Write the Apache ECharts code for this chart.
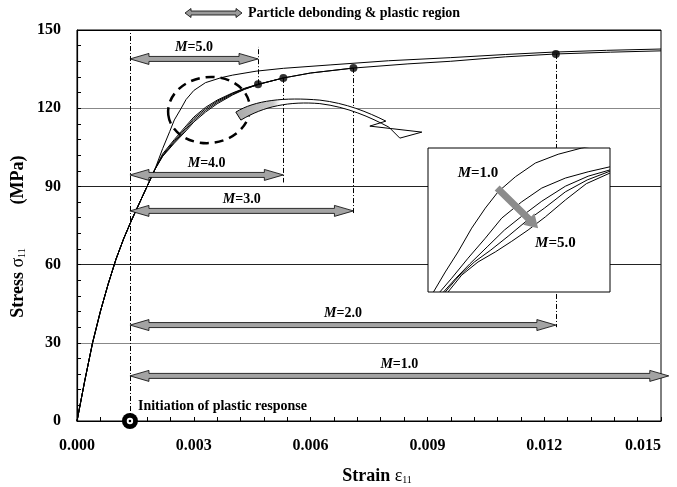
<!DOCTYPE html>
<html>
<head>
<meta charset="utf-8">
<script src="https://cdn.jsdelivr.net/npm/echarts@6/dist/echarts.min.js"></script>
<style>
  html, body { margin: 0; padding: 0; background: #fff; }
  #chart { width: 677px; height: 487px; }
</style>
</head>
<body>
<div id="chart"></div>
<script>
// stress-strain curves, strain [-], stress [MPa]
const elastic = [[0, 0], [0.0002, 15.5], [0.0004, 30], [0.0006, 42], [0.0008, 52.5], [0.001, 62],
  [0.0012, 70], [0.0014, 77], [0.0016, 83.5], [0.0018, 90], [0.002, 96.5]];
const m1Tail = [[0.0022, 104.5], [0.00238, 111], [0.0025, 115.5], [0.00265, 119.3], [0.0028, 123.3],
  [0.003, 126.8], [0.0033, 129.8], [0.0037, 131.7], [0.004, 132.7], [0.0046, 134.2], [0.0053, 135.3],
  [0.0065, 136.6], [0.008, 138.2], [0.0096, 139.4], [0.011, 140.6], [0.0122, 141.5], [0.0136, 142.2], [0.015, 142.7]];
const m2Tail = [[0.0022, 102.5], [0.0025, 108], [0.0028, 113.2], [0.003, 116.6], [0.0033, 120.3], [0.0036, 123.1],
  [0.004, 125.9], [0.0043, 127.6], [0.00465, 129.2], [0.0053, 131.6], [0.006, 133.5], [0.0071, 135.4],
  [0.0085, 137.0], [0.0096, 138], [0.011, 139.7], [0.0123, 140.8], [0.0137, 141.5], [0.015, 142]];
const m3Tail = [[0.0022, 102], [0.0025, 107.5], [0.0028, 112.5], [0.003, 116], [0.0033, 119.7], [0.0036, 122.7],
  [0.004, 125.7], [0.0043, 127.5], [0.00465, 129.1], [0.0053, 131.6], [0.006, 133.5], [0.0071, 135.4]];
const m4Tail = [[0.0022, 101.7], [0.0025, 107], [0.0028, 111.9], [0.003, 115.3], [0.0033, 119.1], [0.0036, 122.2],
  [0.004, 125.4], [0.0043, 127.3], [0.00465, 129.1], [0.0053, 131.6]];
const m5Tail = [[0.0022, 101.5], [0.0025, 106.6], [0.0028, 111.3], [0.003, 114.7], [0.0033, 118.5], [0.0036, 121.7],
  [0.004, 125.1], [0.0043, 127.2], [0.00465, 129.1]];

// debonding points (end of plastic region) for M=5,4,3,2
const debondPoints = [[0.00465, 129.2], [0.0053, 131.6], [0.0071, 135.4], [0.0123, 140.8]];
const plasticStart = 0.00136;

// range arrows
const arrowLabels = ['1.0', '2.0', '3.0', '4.0', '5.0'];
const arrowEnds = [0.0152, 0.0123, 0.0071, 0.0053, 0.00465];
const arrowLevels = [17.3, 36.8, 80.6, 94.4, 138.9];

// dash-dot guide lines [x, yFrom, yTo]
const guides = [[0.00136, 0, 150], [0.00465, 129.2, 143.5], [0.0053, 131.6, 91.5], [0.0071, 135.4, 79], [0.0123, 140.8, 36]];

// inset (magnified view)
const insetM1 = [[0.00246, 108], [0.00259, 111.2], [0.00273, 114.4], [0.00288, 118.2], [0.00303, 121.4], [0.00317, 124],
  [0.00336, 126.4], [0.00358, 128.6], [0.00383, 130], [0.00409, 131], [0.0043, 131.6]];
const insetM2 = [[0.00253, 108], [0.00266, 110.2], [0.00284, 113.4], [0.00303, 116.6], [0.00321, 119.8], [0.00343, 122.4],
  [0.00365, 124.6], [0.00391, 126.2], [0.00416, 127.2], [0.0044, 128]];
const insetM3 = [[0.00257, 108], [0.0027, 110.1], [0.00286, 112.5], [0.00305, 115.2], [0.00324, 117.9], [0.00343, 120.1],
  [0.00365, 122.5], [0.00391, 124.9], [0.00416, 126.5], [0.0044, 127.5]];
const insetM4 = [[0.00259, 108], [0.00273, 110.4], [0.00291, 112.8], [0.00309, 114.7], [0.00328, 116.9], [0.00347, 119.2],
  [0.00368, 121.4], [0.00391, 124], [0.00415, 125.9], [0.0044, 127.3]];
const insetM5 = [[0.00262, 108], [0.00277, 110.7], [0.00295, 112.8], [0.00314, 114.4], [0.00332, 116.1], [0.0035, 117.9],
  [0.00369, 120], [0.00391, 122.7], [0.00414, 125.3], [0.0044, 127]];
const insetArrow = [[0.00316, 124.6, 0.00361, 118.2]];
const insetLabels = ['1.0', '5.0'];
const insetLabelPos = [[0.00295, 127.0], [0.0038, 115.8]];

// annotation anchors: dashed ellipse centre, curved arrow tail
const ellipseCentre = [0.00339, 119.3];
const curvedArrowTail = [0.00408, 118.5];

const F = 'Liberation Serif';
const insetBox = { left: 428, top: 148, width: 182, height: 144, outerBoundsMode: 'none' };

function arrowPoints(a, b, sw, hw, hl, both) {
  const dx = b[0] - a[0], dy = b[1] - a[1], L = Math.hypot(dx, dy);
  const ux = dx / L, uy = dy / L, nx = -uy, ny = ux;
  const P = (t, s) => [a[0] + ux * t + nx * s, a[1] + uy * t + ny * s];
  if (both) {
    return [P(0, 0), P(hl, hw / 2), P(hl, sw / 2), P(L - hl, sw / 2), P(L - hl, hw / 2), P(L, 0),
      P(L - hl, -hw / 2), P(L - hl, -sw / 2), P(hl, -sw / 2), P(hl, -hw / 2)];
  }
  return [P(0, sw / 2), P(L - hl, sw / 2), P(L - hl, hw / 2), P(L, 0), P(L - hl, -hw / 2), P(L - hl, -sw / 2), P(0, -sw / 2)];
}

function mText(x, y, val, size) {
  return {
    type: 'text', x: x, y: y,
    style: {
      text: '{i|M}{n|=' + val + '}', align: 'center', verticalAlign: 'middle',
      rich: {
        i: { fontFamily: F, fontStyle: 'italic', fontWeight: 'bold', fontSize: size, fill: '#000' },
        n: { fontFamily: F, fontWeight: 'bold', fontSize: size, fill: '#000' }
      }
    }
  };
}

const ellipsePath = 'M-41 0 A41 33 0 1 0 41 0 A41 33 0 1 0 -41 0 Z';
const curvedArrowPath = 'M0 0 C19 -12 49 -15 84 -12 C110 -9 132 0 150 9 L134 14 L186 20 L164 26 L153 15 ' +
  'C134 5 112 -5 84 -8.5 C54 -11 28 -6 5 8 Z';

const chart = echarts.init(document.getElementById('chart'));

const lineStyle = { color: '#000', width: 1 };
const curve = (data, xi) => ({
  type: 'line', data: data, xAxisIndex: xi, yAxisIndex: xi, showSymbol: false, symbol: 'none',
  lineStyle: lineStyle, z: xi ? 5 : 2, silent: true
});

const option = {
  animation: false,
  grid: [
    { left: 77, right: 16, top: 30, bottom: 66, show: true, borderColor: '#000', borderWidth: 1, outerBoundsMode: 'none' },
    insetBox
  ],
  xAxis: [{
    type: 'value', min: 0, max: 0.015, interval: 0.003,
    axisLine: { lineStyle: { color: '#000', width: 1.2 } },
    axisTick: { inside: true, length: 4, lineStyle: { color: '#000' } },
    minorTick: { show: true, splitNumber: 5, length: 4, lineStyle: { color: '#000' } },
    splitLine: { show: false },
    axisLabel: { margin: 17, color: '#000', fontFamily: F, fontWeight: 'bold', fontSize: 16,
      alignMaxLabel: 'right', formatter: v => v.toFixed(3) }
  }, {
    type: 'value', gridIndex: 1, min: 0.0024, max: 0.0044, show: false
  }],
  yAxis: [{
    type: 'value', min: 0, max: 150, interval: 30,
    axisLine: { show: true, lineStyle: { color: '#000', width: 1.2 } },
    axisTick: { show: true, inside: true, length: 4, lineStyle: { color: '#000' } },
    minorTick: { show: true, splitNumber: 5, length: 4, lineStyle: { color: '#000' } },
    splitLine: { show: true, lineStyle: { color: ['#000', '#888', '#222', '#222', '#888', '#000'], width: 1 } },
    axisLabel: { margin: 16, color: '#000', fontFamily: F, fontWeight: 'bold', fontSize: 16 }
  }, {
    type: 'value', gridIndex: 1, min: 108, max: 131, show: false
  }],
  series: [
    curve(elastic.concat(m1Tail), 0),
    curve(elastic.concat(m2Tail), 0),
    curve(elastic.concat(m3Tail), 0),
    curve(elastic.concat(m4Tail), 0),
    curve(elastic.concat(m5Tail), 0),
    {
      type: 'lines', coordinateSystem: 'cartesian2d', xAxisIndex: 0, yAxisIndex: 0, z: 1, silent: true,
      lineStyle: { color: '#000', width: 1, type: [5, 2, 1, 2], opacity: 1 },
      data: guides.map(g => ({ coords: [[g[0], g[1]], [g[0], g[2]]] }))
    },
    {
      type: 'scatter', data: debondPoints, symbol: 'circle', symbolSize: 8, z: 4, silent: true,
      itemStyle: { color: '#000' }
    },
    {
      type: 'custom', z: 3, silent: true, clip: false,
      data: arrowEnds.map((e, i) => [plasticStart, e, arrowLevels[i]]),
      encode: { x: [0, 1], y: 2 },
      renderItem: (params, api) => {
        const p0 = api.coord([api.value(0), api.value(2)]);
        const p1 = api.coord([api.value(1), api.value(2)]);
        return {
          type: 'group', children: [
            { type: 'polygon', shape: { points: arrowPoints(p0, p1, 5, 11, 19, true) },
              style: { fill: '#a3a3a3', stroke: '#000', lineWidth: 0.8 } },
            mText((p0[0] + p1[0]) / 2, p0[1] - 12, arrowLabels[params.dataIndex], 14)
          ]
        };
      }
    },
    {
      // dashed ellipse and curved pointer arrow
      type: 'custom', z: 4, silent: true, clip: false,
      data: [ellipseCentre, curvedArrowTail],
      renderItem: (params, api) => {
        const p = api.coord([api.value(0), api.value(1)]);
        if (params.dataIndex === 0) {
          return { type: 'path', x: p[0], y: p[1], rotation: 0.12, shape: { pathData: ellipsePath },
            style: { fill: 'none', stroke: '#000', lineWidth: 2.5, lineDash: [9, 6] } };
        }
        return { type: 'path', x: p[0], y: p[1], shape: { pathData: curvedArrowPath },
          style: {
            fill: new echarts.graphic.LinearGradient(0, 0, 1, 0, [
              { offset: 0, color: '#a8a8a8' }, { offset: 0.2, color: '#c8c8c8' },
              { offset: 0.24, color: '#ffffff' }, { offset: 1, color: '#ffffff' }
            ]),
            stroke: '#000', lineWidth: 1
          } };
      }
    },
    {
      // initiation of plastic response marker
      type: 'custom', z: 6, silent: true, clip: false,
      data: [[plasticStart, 0]],
      renderItem: (params, api) => {
        const p = api.coord([api.value(0), api.value(1)]);
        return {
          type: 'group', children: [
            { type: 'circle', shape: { cx: p[0], cy: p[1], r: 8 }, style: { fill: '#000' } },
            { type: 'circle', shape: { cx: p[0], cy: p[1], r: 3.2 }, style: { fill: '#fff' } },
            { type: 'circle', shape: { cx: p[0], cy: p[1], r: 1.3 }, style: { fill: '#000' } },
            { type: 'text', x: p[0] + 8, y: p[1] - 15,
              style: { text: 'Initiation of plastic response', fontFamily: F, fontWeight: 'bold', fontSize: 14,
                fill: '#000', align: 'left', verticalAlign: 'middle' } }
          ]
        };
      }
    },
    curve(insetM1, 1),
    curve(insetM2, 1),
    curve(insetM3, 1),
    curve(insetM4, 1),
    curve(insetM5, 1),
    {
      type: 'custom', xAxisIndex: 1, yAxisIndex: 1, z: 6, silent: true,
      data: insetArrow,
      renderItem: (params, api) => {
        const a = api.coord([api.value(0), api.value(1)]);
        const b = api.coord([api.value(2), api.value(3)]);
        return { type: 'polygon', shape: { points: arrowPoints(a, b, 7, 16, 13, false) }, style: { fill: '#8c8c8c' } };
      }
    },
    {
      type: 'custom', xAxisIndex: 1, yAxisIndex: 1, z: 6, silent: true,
      data: insetLabelPos,
      renderItem: (params, api) => {
        const p = api.coord([api.value(0), api.value(1)]);
        return mText(p[0], p[1], insetLabels[params.dataIndex], 15);
      }
    }
  ],
  graphic: [
    { type: 'polygon', z: 10, shape: { points: arrowPoints([185, 13], [242, 13], 4, 9, 6, true) },
      style: { fill: '#9a9a9a', stroke: '#000', lineWidth: 0.8 } },
    { type: 'text', z: 10, x: 248, y: 13,
      style: { text: 'Particle debonding & plastic region', fontFamily: F, fontWeight: 'bold', fontSize: 14,
        fill: '#000', align: 'left', verticalAlign: 'middle' } },
    { type: 'rect', z: 4, shape: { x: insetBox.left, y: insetBox.top, width: insetBox.width, height: insetBox.height },
      style: { fill: '#fff', stroke: '#000', lineWidth: 1 } },
    { type: 'text', z: 10, x: 377, y: 476,
      style: {
        text: '{b|Strain }{g|ε}{s|11}', align: 'center', verticalAlign: 'middle',
        rich: {
          b: { fontFamily: F, fontWeight: 'bold', fontSize: 18, fill: '#000' },
          g: { fontFamily: F, fontSize: 18, fill: '#000' },
          s: { fontFamily: F, fontSize: 10, fill: '#000', padding: [8, 0, 0, 0] }
        }
      } },
    { type: 'text', z: 10, x: 18, y: 283, rotation: Math.PI / 2,
      style: {
        text: '{b|Stress }{g|σ}{s|11}', align: 'center', verticalAlign: 'middle',
        rich: {
          b: { fontFamily: F, fontWeight: 'bold', fontSize: 18, fill: '#000' },
          g: { fontFamily: F, fontSize: 18, fill: '#000' },
          s: { fontFamily: F, fontSize: 10, fill: '#000', padding: [8, 0, 0, 0] }
        }
      } },
    { type: 'text', z: 10, x: 18, y: 180, rotation: Math.PI / 2,
      style: { text: '(MPa)', fontFamily: F, fontWeight: 'bold', fontSize: 18, fill: '#000',
        align: 'center', verticalAlign: 'middle' } }
  ]
};
chart.setOption(option);
</script>
</body>
</html>
